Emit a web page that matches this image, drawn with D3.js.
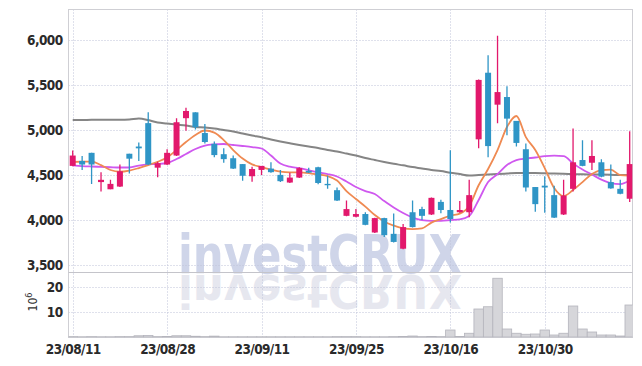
<!DOCTYPE html>
<html>
<head>
<meta charset="utf-8">
<script src="https://cdn.jsdelivr.net/npm/d3@7"></script>
<style>
body { margin: 0; background: #fff; }
svg { display: block; }
.axis text { font-family: "DejaVu Sans", sans-serif; font-stretch: condensed; font-weight: bold; font-size: 13.5px; letter-spacing: -0.6px; fill: #2a2a2a; }
</style>
</head>
<body>
<div id="chart"></div>
<script>
// trading days
let dates = ["23/08/11","23/08/14","23/08/16","23/08/17","23/08/18","23/08/21","23/08/22","23/08/23","23/08/24","23/08/25",
  "23/08/28","23/08/29","23/08/30","23/08/31","23/09/01","23/09/04","23/09/05","23/09/06","23/09/07","23/09/08",
  "23/09/11","23/09/12","23/09/13","23/09/14","23/09/15","23/09/18","23/09/19","23/09/20","23/09/21","23/09/22",
  "23/09/25","23/09/26","23/09/27","23/10/04","23/10/05","23/10/06","23/10/10","23/10/11","23/10/12","23/10/13",
  "23/10/16","23/10/17","23/10/18","23/10/19","23/10/20","23/10/23","23/10/24","23/10/25","23/10/26","23/10/27",
  "23/10/30","23/10/31","23/11/01","23/11/02","23/11/03","23/11/06","23/11/07","23/11/08","23/11/09","23/11/10"];
let tickDates = ["23/08/11","23/08/28","23/09/11","23/09/25","23/10/16","23/10/30"];

let open  = [4605,4660,4750,4425,4345,4375,4740,4820,5080,4585, 4620,4720,5135,5200,4970,4850,4735,4690,4625,4490,
             4560,4575,4505,4420,4475,4550,4590,4405,4335,4050, 4040,4070,3865,4025,3850,3685,4090,4125,4065,4205,
             4115,4090,4090,4900,5640,5285,5370,5105,4790,4370, 4385,4280,4065,4350,4670,4640,4645,4425,4350,4240];
let high  = [4775,4715,4750,4535,4450,4620,4740,4865,5200,4650, 4790,5135,5250,5200,5070,4875,4800,4720,4625,4595,
             4605,4645,4560,4530,4590,4585,4595,4495,4365,4220, 4125,4090,4030,4030,4075,3960,4220,4150,4255,4230,
             4780,4215,4450,5565,5835,6050,5490,5105,4855,4370, 4490,4385,4450,5020,4890,4890,4680,4620,4450,4990];
let low   = [4600,4560,4405,4320,4345,4370,4520,4660,4615,4480, 4615,4715,4995,5010,4855,4700,4640,4570,4440,4430,
             4505,4530,4425,4415,4470,4525,4400,4350,4215,4045, 4035,3945,3860,3815,3755,3680,3920,4005,4060,4080,
             3975,4085,4035,4800,4700,5080,4945,4820,4320,4095, 4085,4025,4060,4320,4600,4560,4480,4350,4290,4205];
let close = [4720,4620,4620,4450,4405,4545,4685,4800,4620,4635, 4750,5090,5215,5035,4870,4725,4680,4575,4495,4570,
             4605,4535,4435,4475,4580,4530,4415,4390,4220,4125, 4070,3950,4025,3835,3760,3925,3925,4050,4250,4115,
             4015,4115,4280,5560,4825,5425,5130,4860,4365,4180, 4365,4030,4275,4645,4605,4715,4485,4355,4295,4625];

// volume, millions of shares
let volume = [0.15,0.1,0.15,0.1,0.1,0.15,0.15,0.5,0.6,0.15, 0.2,0.5,0.5,0.3,0.15,0.35,0.1,0.1,0.1,0.1,
              0.1,0.1,0.1,0.1,0.1,0.1,0.1,0.1,0.15,0.15, 0.15,0.1,0.1,0.1,0.15,0.2,0.4,0.15,0.2,0.15,
              2.8,0.2,1.5,11.2,12.1,23.5,3.2,1.5,1.1,1.2, 2.8,0.8,1.5,12.4,3.2,2.0,0.8,0.8,0.4,12.8];

// moving averages
let ma5  = [4648,4653,4653,4614,4559,4540,4553,4581,4614,4651, 4698,4781,4870,4948,4998,4975,4892,4781,4687,4622,
            4592,4564,4540,4533,4533,4525,4509,4492,4442,4325, 4237,4153,4059,3987,3942,3911,3903,3911,3975,4014,
            4053,4075,4159,4390,4570,4781,5037,5159,4925,4781, 4581,4359,4270,4337,4425,4514,4559,4564,4503,4498];
let ma20 = [4611,4603,4598,4594,4590,4587,4587,4609,4622,4626, 4637,4681,4737,4792,4831,4844,4848,4837,4826,4814,
            4798,4720,4631,4596,4579,4556,4532,4514,4487,4431, 4370,4325,4292,4214,4142,4081,4031,4003,3995,3995,
            4003,4011,4048,4226,4425,4514,4614,4670,4687,4698, 4714,4718,4714,4633,4564,4509,4453,4414,4403,4442];
let ma60 = [5114,5114,5117,5117,5117,5117,5120,5131,5114,5087, 5076,5064,5053,5037,5031,5020,5003,4987,4964,4942,
            4922,4898,4876,4856,4837,4820,4803,4781,4764,4742, 4720,4692,4670,4648,4628,4611,4592,4576,4559,4548,
            4529,4514,4498,4503,4509,4514,4520,4526,4526,4526, 4523,4520,4517,4514,4511,4509,4508,4506,4503,4503];

let priceTicks = [3500, 4000, 4500, 5000, 5500, 6000];
let volumeTicks = [10, 20];

let svgWidth = 642, svgHeight = 366;
let plotLeft = 68.5, plotRight = 632.5, plotTop = 9.5, plotSplit = 272.5, plotBottom = 337.5;

let svg = d3.select("#chart").append("svg")
    .attr("width", svgWidth)
    .attr("height", svgHeight);

let x = d3.scalePoint().domain(dates).range([72.7, 629.7]);
let yPrice = d3.scaleLinear().domain([3426, 6348]).range([272, 9]);
let yVol = d3.scaleLinear().domain([0, 26]).range([337, 272]);
let step = x.step();

svg.append("defs").append("clipPath").attr("id", "plotClip")
  .append("rect")
    .attr("x", plotLeft).attr("y", plotTop)
    .attr("width", plotRight - plotLeft).attr("height", plotBottom - plotTop);

// watermark + reflection
let wm = svg.append("g").style("font-family", "'DejaVu Sans', sans-serif").style("font-weight", "bold");
wm.append("text")
    .attr("x", 178).attr("y", 273)
    .attr("textLength", 284).attr("lengthAdjust", "spacingAndGlyphs")
    .style("font-size", "54px")
    .attr("fill", "#cfd5e9")
    .text("investCRUX");
wm.append("text")
    .attr("x", 178).attr("y", 273)
    .attr("transform", `translate(0, ${274 * 1.85}) scale(1, -0.85)`)
    .attr("textLength", 284).attr("lengthAdjust", "spacingAndGlyphs")
    .style("font-size", "54px")
    .attr("fill", "#e6e7ef")
    .text("investCRUX");

// grid
let grid = svg.append("g")
    .attr("stroke", "#bfc3d8")
    .attr("stroke-width", 1)
    .attr("stroke-dasharray", "1,2");
grid.selectAll(".hp").data(priceTicks).enter().append("line")
    .attr("x1", plotLeft).attr("x2", plotRight)
    .attr("y1", d => Math.round(yPrice(d)) + 0.5).attr("y2", d => Math.round(yPrice(d)) + 0.5);
grid.selectAll(".hv").data(volumeTicks).enter().append("line")
    .attr("x1", plotLeft).attr("x2", plotRight)
    .attr("y1", d => Math.round(yVol(d)) + 0.5).attr("y2", d => Math.round(yVol(d)) + 0.5);
grid.selectAll(".vx").data(tickDates).enter().append("line")
    .attr("x1", d => Math.round(x(d)) + 0.5).attr("x2", d => Math.round(x(d)) + 0.5)
    .attr("y1", plotTop).attr("y2", plotBottom);

// frame
let frame = svg.append("g").attr("stroke", "#cfcfd4").attr("stroke-width", 1).attr("fill", "none");
frame.append("rect")
    .attr("x", plotLeft).attr("y", plotTop)
    .attr("width", plotRight - plotLeft).attr("height", plotBottom - plotTop);
frame.append("line").attr("x1", plotLeft).attr("x2", plotRight).attr("y1", plotSplit).attr("y2", plotSplit)
    .attr("stroke", "#c4c4ca");

let chartGroup = svg.append("g").attr("clip-path", "url(#plotClip)");

// volume bars
chartGroup.append("g")
  .selectAll("rect")
  .data(volume)
  .enter()
  .append("rect")
    .attr("x", (d, i) => x(dates[i]) - step / 2)
    .attr("width", step)
    .attr("y", d => yVol(d))
    .attr("height", d => yVol(0) - yVol(d))
    .attr("fill", "#d6d6da")
    .attr("stroke", "#b4b4bc")
    .attr("stroke-width", 0.8);

// moving averages
let maLine = d3.line()
    .x((d, i) => x(dates[i]))
    .y(d => yPrice(d))
    .curve(d3.curveMonotoneX);

[[ma60, "#858585", 2], [ma20, "#cf58ef", 1.8], [ma5, "#ef8a52", 1.8]].forEach(function(s) {
    chartGroup.append("path")
        .datum(s[0])
        .attr("d", maLine)
        .attr("fill", "none")
        .attr("stroke", s[1])
        .attr("stroke-width", s[2]);
});

// candles
let upColor = "#e2186c", downColor = "#2f95c6";
let candles = chartGroup.append("g")
  .selectAll("g")
  .data(dates)
  .enter()
  .append("g")
    .attr("fill", (d, i) => close[i] >= open[i] ? upColor : downColor)
    .attr("stroke", (d, i) => close[i] >= open[i] ? upColor : downColor);

candles.append("line")
    .attr("x1", d => x(d)).attr("x2", d => x(d))
    .attr("y1", (d, i) => yPrice(high[i]))
    .attr("y2", (d, i) => yPrice(low[i]))
    .attr("stroke-width", 1.3);

candles.append("rect")
    .attr("x", d => x(d) - 3)
    .attr("width", 6)
    .attr("y", (d, i) => yPrice(Math.max(open[i], close[i])))
    .attr("height", (d, i) => Math.max(1.2, Math.abs(yPrice(open[i]) - yPrice(close[i]))))
    .attr("stroke", "none");

// axes
let priceAxis = svg.append("g")
    .attr("class", "axis")
    .attr("transform", `translate(${plotLeft}, 0)`)
    .call(d3.axisLeft(yPrice).tickValues(priceTicks).tickFormat(d3.format(",")).tickSize(0).tickPadding(6));
let volAxis = svg.append("g")
    .attr("class", "axis")
    .attr("transform", `translate(${plotLeft}, 0)`)
    .call(d3.axisLeft(yVol).tickValues(volumeTicks).tickSize(0).tickPadding(6));
let dateAxis = svg.append("g")
    .attr("class", "axis")
    .attr("transform", `translate(0, ${plotBottom})`)
    .call(d3.axisBottom(x).tickValues(tickDates).tickSize(0).tickPadding(7));
svg.selectAll(".axis .domain").remove();

// volume unit label
let unit = svg.append("text")
    .attr("transform", "translate(37, 302) rotate(-90)")
    .attr("text-anchor", "middle")
    .style("font-family", "'DejaVu Sans', sans-serif")
    .style("font-stretch", "condensed")
    .style("font-size", "12px")
    .attr("fill", "#333");
unit.append("tspan").text("10");
unit.append("tspan").attr("dy", -5).style("font-size", "9px").text("6");
</script>
</body>
</html>
